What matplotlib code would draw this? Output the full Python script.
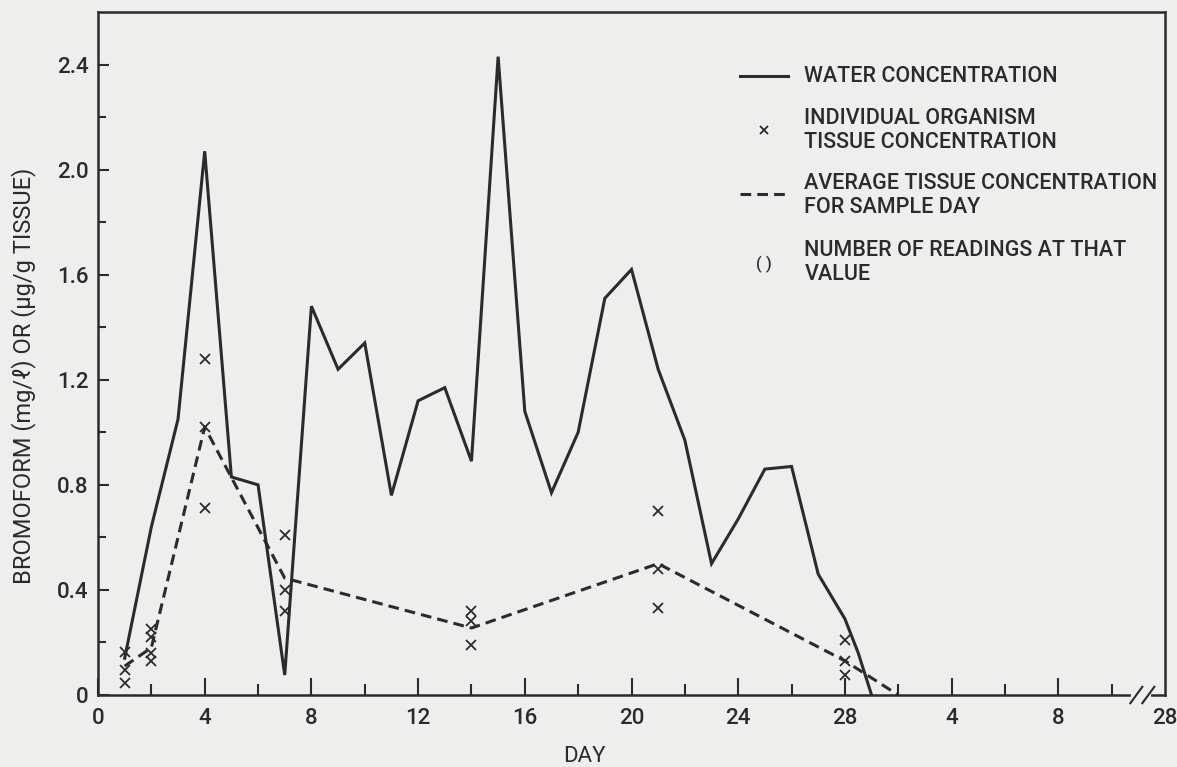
import matplotlib.pyplot as plt
from matplotlib.lines import Line2D

# water concentration, mg/l
water_day = [1, 2, 3, 4, 5, 6, 7, 8, 9, 10, 11, 12, 13, 14, 15, 16, 17, 18, 19, 20,
             21, 22, 23, 24, 25, 26, 27, 28, 28.5, 29]
water_conc = [0.14, 0.64, 1.05, 2.07, 0.83, 0.80, 0.076, 1.48, 1.24, 1.34, 0.76, 1.12,
              1.17, 0.89, 2.43, 1.08, 0.77, 1.00, 1.51, 1.62, 1.24, 0.97, 0.50, 0.67,
              0.86, 0.87, 0.46, 0.29, 0.16, 0.0]

# average tissue concentration per sample day
avg_day = [1, 2, 4, 7, 14, 21, 28, 30]
avg_conc = [0.11, 0.18, 1.02, 0.445, 0.255, 0.50, 0.13, 0.0]

# individual organism readings
tissue_day = [1, 1, 1, 2, 2, 2, 2, 4, 4, 4, 7, 7, 7, 14, 14, 14, 21, 21, 21, 28, 28, 28]
tissue_conc = [0.165, 0.095, 0.045, 0.25, 0.22, 0.16, 0.13, 1.28, 1.02, 0.71,
               0.61, 0.40, 0.32, 0.32, 0.28, 0.19, 0.70, 0.48, 0.33, 0.21, 0.13, 0.075]

major_ticks = [0, 4, 8, 12, 16, 20, 24, 28, 32, 36, 40]
major_labels = ['0', '4', '8', '12', '16', '20', '24', '28', '4', '8', '28']
minor_ticks = [2, 6, 10, 14, 18, 22, 26, 30, 34, 38]
y_ticks = [0, 0.4, 0.8, 1.2, 1.6, 2.0, 2.4]
y_labels = ['0', '0.4', '0.8', '1.2', '1.6', '2.0', '2.4']

plt.rcParams['font.family'] = ['Roboto', 'DejaVu Sans']
plt.rcParams['font.weight'] = 'medium'
ink = '#2b2b2b'
bg = '#eeeeec'

fig = plt.figure(figsize=(11.77, 7.67), dpi=100, facecolor=bg)
ax = fig.add_axes([98/1177, 72/767, 1067/1177, 683/767], facecolor=bg)

ax.plot(water_day, water_conc, color=ink, lw=2.2, solid_joinstyle='miter')
ax.plot(avg_day, avg_conc, color=ink, lw=2.2, dashes=(3.5, 2))
ax.plot(tissue_day, tissue_conc, 'x', color=ink, ms=7, mew=1.3)

ax.set_xlim(0, 40)
ax.set_ylim(0, 2.6)
ax.set_xticks(major_ticks)
ax.set_xticklabels(major_labels)
ax.set_xticks(minor_ticks, minor=True)
ax.set_yticks(y_ticks)
ax.set_yticklabels(y_labels)
ax.set_yticks([0.2, 0.6, 1.0, 1.4, 1.8, 2.2], minor=True)
ax.tick_params(axis='both', which='both', direction='in', color=ink, width=1.5, labelsize=16, labelcolor=ink)
ax.tick_params(axis='x', which='major', length=12, pad=9)
ax.tick_params(axis='x', which='minor', length=8)
ax.tick_params(axis='y', which='major', length=8, pad=7)
ax.tick_params(axis='y', which='minor', length=6)
ax.xaxis.get_major_ticks()[-1].tick1line.set_visible(False)
for s in ax.spines.values():
    s.set_color(ink)
    s.set_linewidth(1.8)

ax.set_xlabel('DAY', fontsize=16, color=ink)
ax.xaxis.set_label_coords(0.456, -0.075)
ax.set_ylabel('BROMOFORM (mg/ℓ) OR (μg/g TISSUE)', fontsize=17, color=ink)
ax.yaxis.set_label_coords(-0.058, 0.468)

# axis break on the day scale
tr = ax.get_xaxis_transform()
ax.plot([38.8, 39.4], [0, 0], color=bg, lw=3, transform=tr, clip_on=False, zorder=5)
for x0 in (38.7, 39.15):
    ax.plot([x0, x0 + 0.45], [-0.012, 0.012], color=ink, lw=1.5, transform=tr, clip_on=False, zorder=6)

# legend drawn by hand
t = ax.transAxes
fs = 15.5
ax.add_line(Line2D([0.602, 0.647], [0.906, 0.906], color=ink, lw=2.2, transform=t))
ax.text(0.662, 0.906, 'WATER CONCENTRATION', transform=t, fontsize=fs, color=ink, va='center')
ax.plot([0.624], [0.827], 'x', color=ink, ms=6, mew=1.3, transform=t)
ax.text(0.662, 0.827, 'INDIVIDUAL ORGANISM\nTISSUE CONCENTRATION', transform=t, fontsize=fs,
        color=ink, va='center', linespacing=1.2)
ax.add_line(Line2D([0.602, 0.647], [0.733, 0.733], color=ink, lw=2.2, dashes=(3.5, 2), transform=t))
ax.text(0.662, 0.731, 'AVERAGE TISSUE CONCENTRATION\nFOR SAMPLE DAY', transform=t, fontsize=fs,
        color=ink, va='center', linespacing=1.2)
ax.text(0.624, 0.630, '( )', transform=t, fontsize=12, color=ink, va='center', ha='center')
ax.text(0.662, 0.633, 'NUMBER OF READINGS AT THAT\nVALUE', transform=t, fontsize=fs,
        color=ink, va='center', linespacing=1.2)

fig.savefig('out.png', dpi=100, facecolor=bg)
